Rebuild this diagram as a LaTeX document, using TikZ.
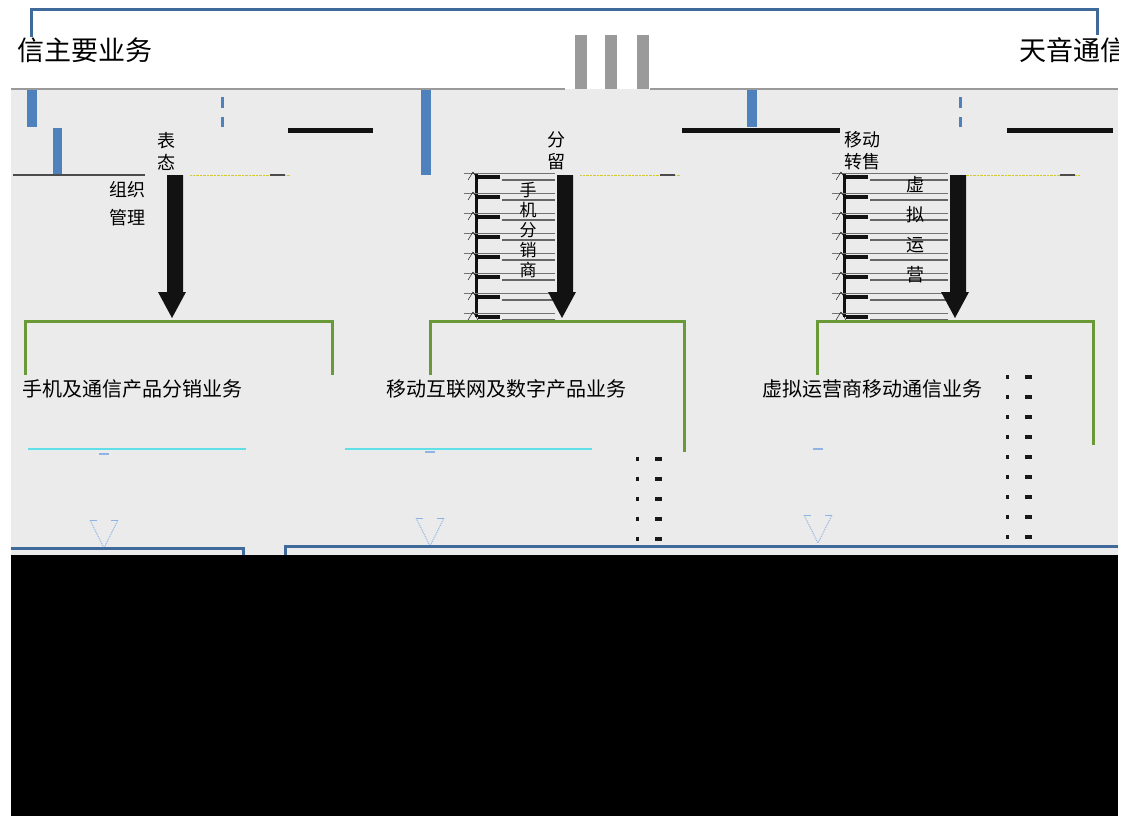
\documentclass[tikz,border=0pt]{standalone}
\usepackage{fontspec}
\newfontfamily\cjk{Noto Sans CJK SC}
\definecolor{bandgray}{HTML}{EBEBEB}
\definecolor{linegray}{HTML}{9A9A9A}
\definecolor{frameblue}{HTML}{3F6A9A}
\definecolor{barblue}{HTML}{4F81BD}
\definecolor{boxgreen}{HTML}{6A9A38}
\definecolor{rulecyan}{HTML}{5FE0E8}
\definecolor{tipblue}{HTML}{8EB4E3}
\tikzset{
  title/.style={font=\cjk\fontsize{27}{27}\selectfont, inner sep=0pt},
  boxlabel/.style={font=\cjk\fontsize{20}{20}\selectfont, inner sep=0pt},
  vlabel/.style={font=\cjk\fontsize{18}{22}\selectfont, inner sep=0pt, align=center},
  greenframe/.style={boxgreen, line width=3pt},
  blueframe/.style={frameblue, line width=3pt}
}
\begin{document}
\begin{tikzpicture}[x=1pt, y=-1pt]
	\useasboundingbox (0,0) rectangle (1127,816);
	% top band
	\draw[blueframe] (31,37) -- (31,10) -- (1097,10) -- (1097,35);
	\node[title, anchor=east] (lefttitle) at (153,50) {信主要业务};
	\begin{scope}
		\clip (11,0) rectangle (1118,89);
		\node[title, anchor=west] (righttitle) at (1019,50) {天音通信};
	\end{scope}
	\foreach \x in {575, 605, 637} {
		\fill[linegray] (\x,35) rectangle (\x+12,90);
	}
	
	% gray band
	\fill[bandgray] (11,89) rectangle (1118,555);
	\draw[linegray, line width=2pt] (11,89) -- (565,89);
	\draw[linegray, line width=2pt] (650,89) -- (1118,89);
	\fill[barblue] (27,90) rectangle (37,127);
	\fill[barblue] (53,128) rectangle (62,175);
	\fill[barblue] (421,90) rectangle (431,175);
	\fill[barblue] (747,90) rectangle (757,127);
	\foreach \x in {222, 960} {
		\fill[barblue] (\x-1.5,97) rectangle (\x+1.5,108);
		\fill[barblue] (\x-1.5,117) rectangle (\x+1.5,127);
	}
	\foreach \a/\b in {288/373, 682/840, 1007/1113} {
		\draw[black!93, line width=5pt] (\a,130) -- (\b,130);
	}
	\draw[black!70, line width=1.5pt] (13,175) -- (145,175);
	\foreach \a/\b in {190/290, 580/680, 960/1080} {
		\draw[yellow!80!black, densely dotted] (\a,175) -- (\b,175);
		\draw[black!70, line width=2pt] (\b-20,175) -- (\b-5,175);
	}
	
	% row stacks
	\foreach \sx/\ex in {470/555, 838/948} {
		\draw[black!93, line width=3pt] (\sx+6,174) -- (\sx+6,317);
		\foreach \y in {175,195,...,315} {
			\draw[black!55] (\sx-6,\y-2) -- (\ex,\y-2);
			\draw[black!93, line width=4pt] (\sx+8,\y+2) -- (\sx+30,\y+2);
			\draw[black!60, line width=2pt] (\sx+32,\y+5) -- (\ex,\y+5);
			\draw[black] (\sx-2,\y+5) -- (\sx+3,\y-3) -- (\sx+8,\y+5);
		}
	}
	
	% block arrows
	\foreach \ax in {175, 565, 958} {
		\fill[black!93] (\ax-8,175) -- (\ax+8,175) -- (\ax+8,292) -- (\ax+11,292)
			-- (\ax-3,318) -- (\ax-17,292) -- (\ax-8,292) -- cycle;
	}
	\node[vlabel] (tagone) at (166,151) {表\\态};
	\node[vlabel] (orgone) at (127,204) {组织\\[6pt]管理};
	\node[vlabel] (tagtwo) at (556,151) {分\\留};
	\node[vlabel, font=\cjk\fontsize{17}{20}\selectfont] (sidetwo) at (528,230) {手\\机\\分\\销\\商};
	\node[vlabel] (tagthree) at (862,151) {移动\\转售};
	\node[vlabel, font=\cjk\fontsize{18}{30}\selectfont] (sidethree) at (915,230) {虚\\拟\\运\\营};
	
	% green boxes
	\draw[greenframe] (25,375) -- (25,321) -- (332,321) -- (332,375);
	\draw[greenframe] (430,375) -- (430,321) -- (684,321) -- (684,452);
	\draw[greenframe] (817,375) -- (817,321) -- (1093,321) -- (1093,445);
	\node[boxlabel] (prodone) at (132,389) {手机及通信产品分销业务};
	\node[boxlabel] (prodtwo) at (506,389) {移动互联网及数字产品业务};
	\node[boxlabel] (prodthree) at (872,389) {虚拟运营商移动通信业务};
	\draw[rulecyan, line width=1.5pt] (28,449) -- (246,449);
	\draw[rulecyan, line width=1.5pt] (345,449) -- (592,449);
	\foreach \mx/\my in {104/454, 430/452, 818/449} {
		\draw[tipblue, line width=1.5pt] (\mx-5,\my) -- (\mx+5,\my);
	}
	
	% dotted columns
	\foreach \y in {457,477,...,537} {
		\fill[black!90] (636,\y) rectangle +(3,4);
		\fill[black!90] (655,\y) rectangle +(7,4);
	}
	\foreach \y in {375,395,...,539} {
		\fill[black!90] (1006,\y) rectangle +(3,4);
		\fill[black!90] (1025,\y) rectangle +(7,4);
	}
	
	% small triangles
	\foreach \tx/\ty in {104/520, 430/518, 818/515} {
		\draw[tipblue, line width=1pt] (\tx-14,\ty) -- (\tx-7,\ty);
		\draw[tipblue, line width=1pt] (\tx+7,\ty) -- (\tx+14,\ty);
		\draw[tipblue, densely dotted, line width=1pt] (\tx-14,\ty) -- (\tx,\ty+28) -- (\tx+14,\ty);
	}
	
	% bottom frames
	\draw[blueframe] (11,548) -- (243,548) -- (243,556);
	\draw[blueframe] (285,556) -- (285,546) -- (1118,546);
	\fill[black] (11,555) rectangle (1118,816);
\end{tikzpicture}
\end{document}
